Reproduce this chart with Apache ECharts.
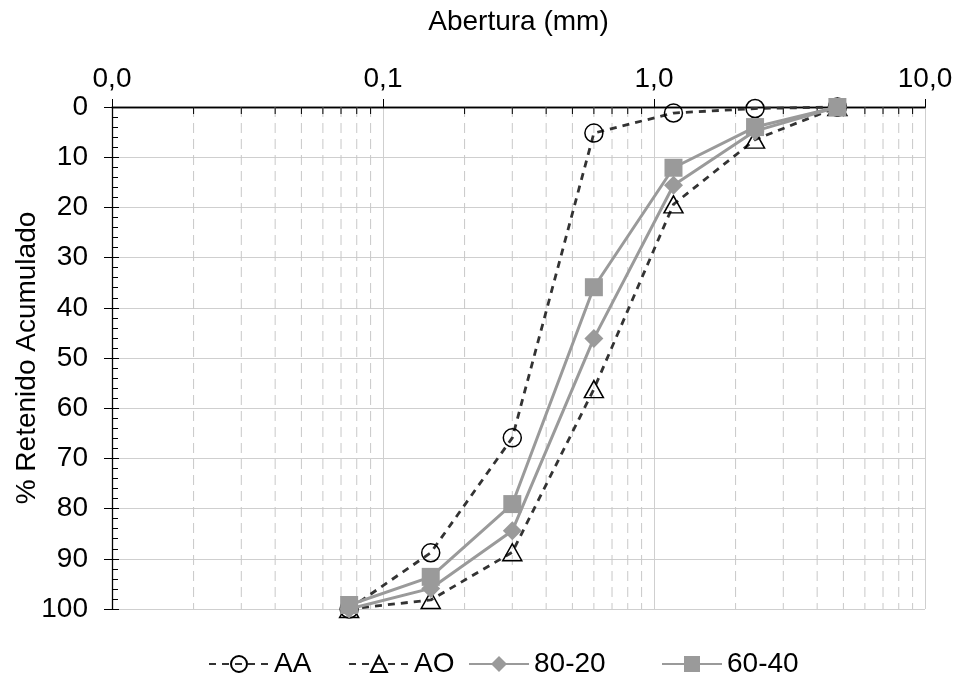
<!DOCTYPE html>
<html><head><meta charset="utf-8">
<script src="https://cdn.jsdelivr.net/npm/echarts@6/dist/echarts.min.js"></script>
<style>html,body{margin:0;padding:0;background:#fff}#c{width:957px;height:673px}</style>
</head><body><div id="c"></div>
<script>
const sizes = [0.075, 0.15, 0.3, 0.6, 1.18, 2.36, 4.75];
const AA = [100, 88.8, 65.9, 5.2, 1.2, 0.3, 0];
const AO = [100, 98.2, 88.7, 56.2, 19.4, 6.5, 0];
const s8020 = [100, 95.9, 84.4, 46.1, 15.6, 4.8, 0];
const s6040 = [99.2, 93.6, 79.1, 35.9, 12.1, 4.0, 0];
const seriesNames = ['AA', 'AO', '80-20', '60-40'];
const minorX = [0.02,0.03,0.04,0.05,0.06,0.07,0.08,0.09,0.2,0.3,0.4,0.5,0.6,0.7,0.8,0.9,2,3,4,5,6,7,8,9];
const FONT = '"Liberation Sans", Arial, sans-serif';
const FS = 28;

const pair = arr => sizes.map((x, i) => [x, arr[i]]);
const chart = echarts.init(document.getElementById('c'));
const dashed = {color: '#333', width: 2.8, type: [7, 6]};
const gray = '#9a9a9a';
const legendLeft = [203, 343, 463, 656];
chart.setOption({
  animation: false,
  textStyle: {fontFamily: FONT, color: '#000'},
  grid: {left: 112, right: 32, top: 107, bottom: 64, containLabel: false, outerBoundsMode: 'none'},
  xAxis: [{
    type: 'log', logBase: 10, min: 0.01, max: 10, position: 'top',
    name: 'Abertura (mm)', nameLocation: 'middle', nameGap: 71, nameMoveOverlap: false,
    nameTextStyle: {fontSize: FS, fontFamily: FONT, color: '#000'},
    axisLine: {lineStyle: {color: '#000', width: 1.3}},
    axisTick: {show: true, inside: false, length: 8, lineStyle: {color: '#000'}},
    axisLabel: {fontSize: FS, fontFamily: FONT, color: '#000', margin: 14,
      formatter: v => v.toFixed(1).replace('.', ',')},
    splitLine: {show: true, lineStyle: {color: '#cfcfcf', width: 1}},
    minorTick: {show: false}
  }, {
    type: 'log', logBase: 10, min: 0.01, max: 10, position: 'bottom',
    axisLine: {lineStyle: {color: '#000', width: 1.3}},
    axisTick: {show: false}, axisLabel: {show: false}, splitLine: {show: false}
  }],
  yAxis: [{
    type: 'value', inverse: true, min: 0, max: 100, interval: 10,
    name: '% Retenido Acumulado', nameLocation: 'middle', nameGap: 71, nameMoveOverlap: false,
    nameTextStyle: {fontSize: FS, fontFamily: FONT, color: '#000'},
    axisLine: {show: true, lineStyle: {color: '#000', width: 1.3}},
    axisTick: {show: true, inside: true, length: 7, lineStyle: {color: '#000'}},
    minorTick: {show: true, splitNumber: 5, length: 6, lineStyle: {color: '#000'}},
    axisLabel: {fontSize: FS, fontFamily: FONT, color: '#000', margin: 24},
    splitLine: {show: true, lineStyle: {color: '#cfcfcf', width: 1}}
  }, {
    type: 'value', inverse: true, min: 0, max: 100, interval: 10, position: 'left',
    axisLine: {show: false}, axisLabel: {show: false}, splitLine: {show: false},
    axisTick: {show: true, inside: false, length: 8, lineStyle: {color: '#000'}}
  }],
  legend: seriesNames.map((n, i) => ({
    top: 645, left: legendLeft[i], itemWidth: 60, itemHeight: 20, itemGap: 0,
    textStyle: {fontSize: FS, fontFamily: FONT, color: '#000'},
    data: [n]
  })),
  series: [{
    type: 'custom', silent: true, z: 1,
    data: minorX.map(v => [v]),
    encode: {x: 0},
    renderItem: (params, api) => {
      const x = api.value(0);
      const top = api.coord([x, 0]);
      const bot = api.coord([x, 100]);
      return {type: 'group', children: [
        {type: 'line', shape: {x1: top[0], y1: top[1], x2: bot[0], y2: bot[1]},
          style: {stroke: '#c8c8c8', lineWidth: 1, lineDash: [10, 6]}},
        {type: 'line', shape: {x1: top[0], y1: top[1], x2: top[0], y2: top[1] + 7},
          style: {stroke: '#000', lineWidth: 1}}
      ]};
    }
  }, {
    name: 'AA', type: 'line', data: pair(AA), z: 3,
    symbol: 'circle', symbolSize: 18,
    lineStyle: dashed,
    itemStyle: {color: 'rgba(0,0,0,0)', borderColor: '#000', borderWidth: 1.5}
  }, {
    name: 'AO', type: 'line', data: pair(AO), z: 3,
    symbol: 'triangle', symbolSize: [19, 17],
    lineStyle: dashed,
    itemStyle: {color: 'rgba(0,0,0,0)', borderColor: '#000', borderWidth: 1.5}
  }, {
    name: '80-20', type: 'line', data: pair(s8020), z: 4,
    symbol: 'diamond', symbolSize: 19,
    lineStyle: {color: gray, width: 3},
    itemStyle: {color: gray}
  }, {
    name: '60-40', type: 'line', data: pair(s6040), z: 5,
    symbol: 'rect', symbolSize: 18,
    lineStyle: {color: gray, width: 3},
    itemStyle: {color: gray}
  }]
});
</script></body></html>
